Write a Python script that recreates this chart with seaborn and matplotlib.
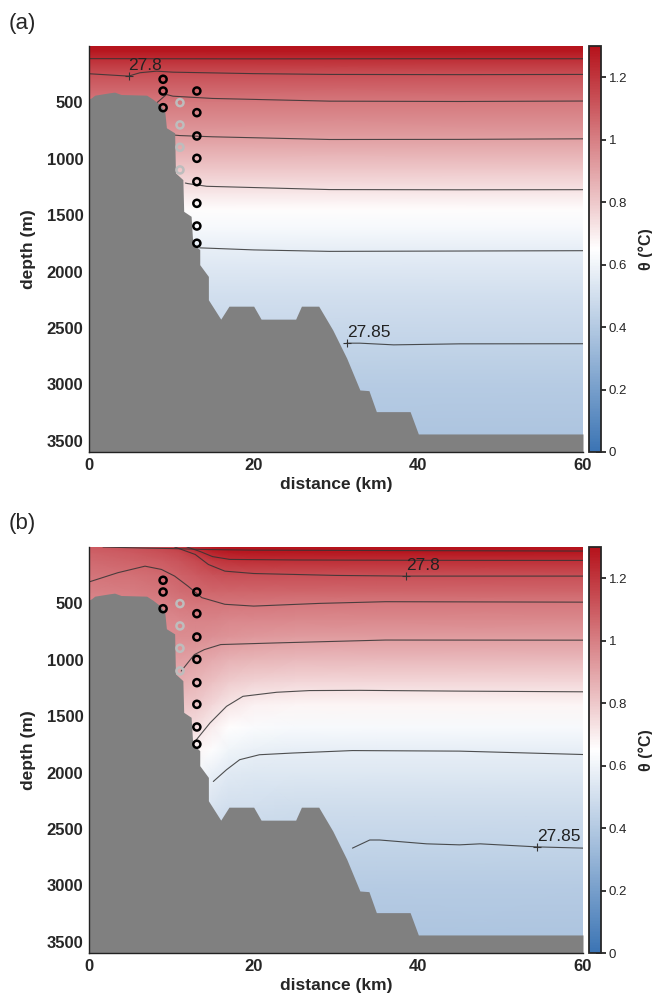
import numpy as np
import matplotlib
matplotlib.use("Agg")
import matplotlib.pyplot as plt
from matplotlib.colors import LinearSegmentedColormap
import seaborn as sns

sns.set_style("white")
plt.rcParams['font.family'] = ['Liberation Sans', 'DejaVu Sans']

# ---------------- data ----------------
# bathymetry (distance km, depth m)
bathy_km = [0, 0.3, 0.7, 2.5, 3.1, 3.9, 7.0, 7.8, 8.6, 9.2, 9.4, 10.4, 10.5, 11.4, 11.5,
            12.4, 12.6, 13.45, 13.45, 14.5, 14.5, 16.0, 17.0, 20.0, 20.9, 25.1, 25.8, 27.9,
            29.6, 31.3, 32.9, 34.0, 34.9, 39.0, 40.0, 60]
bathy_depth = [470, 459, 436, 415, 409, 430, 436, 474, 519, 578, 725, 770, 1125, 1185, 1466,
               1510, 1747, 1806, 1939, 2043, 2250, 2422, 2307, 2307, 2422, 2422, 2307, 2307,
               2517, 2768, 3050, 3056, 3242, 3242, 3440, 3440]

# panel (a): theta profile (horizontally uniform)
a_depths = [0, 50, 120, 250, 500, 800, 1100, 1300, 1450, 1600, 1800, 2200, 2650, 3000, 3600]
a_theta = [1.30, 1.28, 1.22, 1.13, 1.02, 0.92, 0.80, 0.72, 0.66, 0.62, 0.57, 0.50, 0.45, 0.41, 0.37]

# panel (b): theta on a grid (rows = depth, columns = distance)
b_dist = [0, 5, 9, 11, 13, 15, 17, 20, 25, 35, 60]
b_depths = [0, 50, 120, 250, 400, 500, 650, 800, 1000, 1200, 1400, 1600, 1800, 2000, 2300,
            2650, 3000, 3600]
b_theta = [
    [1.10, 1.12, 1.15, 1.18, 1.24, 1.28, 1.30, 1.30, 1.30, 1.30, 1.30],
    [1.08, 1.10, 1.13, 1.15, 1.20, 1.25, 1.27, 1.28, 1.28, 1.28, 1.28],
    [1.06, 1.08, 1.10, 1.12, 1.15, 1.19, 1.21, 1.22, 1.22, 1.22, 1.22],
    [1.03, 1.04, 1.06, 1.08, 1.10, 1.12, 1.13, 1.13, 1.13, 1.13, 1.13],
    [1.00, 1.01, 1.03, 1.05, 1.06, 1.07, 1.07, 1.07, 1.07, 1.07, 1.07],
    [0.98, 0.99, 1.00, 1.02, 1.03, 1.03, 1.03, 1.03, 1.02, 1.02, 1.02],
    [0.96, 0.97, 0.97, 0.98, 0.99, 0.99, 0.98, 0.98, 0.97, 0.97, 0.97],
    [0.94, 0.95, 0.95, 0.96, 0.96, 0.95, 0.94, 0.93, 0.92, 0.92, 0.92],
    [0.90, 0.91, 0.91, 0.91, 0.90, 0.88, 0.86, 0.85, 0.84, 0.84, 0.84],
    [0.86, 0.87, 0.87, 0.87, 0.85, 0.82, 0.79, 0.77, 0.76, 0.76, 0.76],
    [0.80, 0.81, 0.81, 0.81, 0.80, 0.76, 0.72, 0.69, 0.68, 0.68, 0.68],
    [0.75, 0.75, 0.75, 0.75, 0.74, 0.70, 0.65, 0.63, 0.62, 0.62, 0.62],
    [0.70, 0.70, 0.70, 0.70, 0.68, 0.64, 0.60, 0.58, 0.57, 0.57, 0.57],
    [0.64, 0.64, 0.64, 0.64, 0.62, 0.58, 0.55, 0.54, 0.54, 0.54, 0.54],
    [0.55, 0.55, 0.55, 0.55, 0.54, 0.52, 0.50, 0.50, 0.49, 0.49, 0.49],
    [0.45, 0.45, 0.45, 0.45, 0.45, 0.45, 0.45, 0.45, 0.45, 0.45, 0.45],
    [0.41, 0.41, 0.41, 0.41, 0.41, 0.41, 0.41, 0.41, 0.41, 0.41, 0.41],
    [0.37, 0.37, 0.37, 0.37, 0.37, 0.37, 0.37, 0.37, 0.37, 0.37, 0.37],
]

# density contours, panel (a): (km list, depth list)
a_contours = {
    "27.79": ([0, 20, 40, 60], [112, 114, 113, 113]),
    "27.80": ([0, 4.8, 6.2, 8.2, 10.2, 20, 29.2, 45, 60], [246, 267, 237, 223, 232, 245, 252, 254, 252]),
    "27.81": ([8.3, 9.4, 10.2, 15, 29.2, 45, 60], [500, 430, 445, 465, 489, 492, 488]),
    "27.82": ([10.4, 11, 15, 29.2, 45, 60], [790, 794, 805, 829, 828, 823]),
    "27.83": ([11.7, 12, 14.3, 29.2, 45, 60], [1215, 1220, 1244, 1273, 1275, 1274]),
    "27.84": ([13.45, 13.9, 20, 29.2, 45, 60], [1790, 1791, 1808, 1821, 1818, 1815]),
    "27.85": ([31.3, 32.9, 37, 45, 60], [2635, 2635, 2650, 2641, 2640]),
}
# density contours, panel (b)
b_contours = {
    "27.78": ([1.7, 6, 10.8, 14, 20, 40, 60], [0, 8, 15, 22, 28, 32, 36]),
    "27.79": ([11.9, 13.5, 15, 17.1, 25, 40, 60], [0, 40, 85, 110, 115, 118, 119]),
    "27.80": ([10.4, 12.9, 14.5, 16.5, 20, 30, 38.4, 50, 60], [0, 66, 155, 214, 235, 252, 258, 258, 258]),
    "27.81": ([0, 3.5, 6.8, 8.8, 10.4, 12, 13.7, 16.5, 20, 28, 36, 60],
              [310, 228, 170, 199, 258, 346, 449, 508, 524, 500, 485, 489]),
    "27.82": ([11.2, 12.8, 14, 16, 23, 36, 60], [1100, 954, 910, 865, 850, 825, 826]),
    "27.83": ([12.7, 14.7, 16.7, 18.7, 22.8, 26.8, 32.9, 45, 60],
              [1740, 1560, 1413, 1324, 1288, 1273, 1271, 1278, 1284]),
    "27.84": ([15.1, 16.7, 18.3, 20.7, 24.7, 32, 45, 60], [2079, 1975, 1886, 1842, 1827, 1805, 1810, 1840]),
    "27.85": ([32.0, 34.1, 35.3, 41, 45, 47.5, 54.4, 60], [2670, 2598, 2598, 2632, 2641, 2632, 2659, 2670]),
}
# contour labels: (text, km, depth)
a_labels = [("27.8", 4.8, 267), ("27.85", 31.3, 2632)]
b_labels = [("27.8", 38.5, 258), ("27.85", 54.4, 2659)]

# instruments
moor1_km, moor1_depth = 9.0, [295, 399, 547]
moorg_km, moorg_depth = 11.05, [502, 700, 898, 1099]
moor2_km, moor2_depth = 13.1, [399, 591, 798, 996, 1203, 1395, 1596, 1749]

cbar_ticks = [0, 0.2, 0.4, 0.6, 0.8, 1.0, 1.2]
cbar_ticklabels = ["0", "0.2", "0.4", "0.6", "0.8", "1", "1.2"]
y_ticks = [500, 1000, 1500, 2000, 2500, 3000, 3500]
x_ticks = [0, 20, 40, 60]

# ---------------- plot ----------------
cmap = LinearSegmentedColormap.from_list("bwr_m", ["#3b74b4", "#ffffff", "#b5121b"])
W, H = 652, 1001
fig = plt.figure(figsize=(W / 100, H / 100), dpi=100)

ax_w = 494 / W
panels = [
    dict(top=46, letter="(a)", ly=13),
    dict(top=547, letter="(b)", ly=513),
]
ax_h = 406 / H


def draw_panel(ax, cax, X, Y, Z, contours, labels):
    mesh = ax.pcolormesh(X, Y, Z, shading="gouraud", cmap=cmap, vmin=0, vmax=1.3,
                         zorder=1, rasterized=True)
    for key, (km, dep) in contours.items():
        sns.lineplot(x=km, y=dep, ax=ax, color="#333333", linewidth=0.8, alpha=0.85,
                     sort=False, estimator=None, legend=False, zorder=2)
    for txt, km, dep in labels:
        ax.plot([km], [dep], marker="+", ms=6, mew=0.8, color="#333333", zorder=2.5)
        ax.text(km, dep - 25, txt, fontsize=12.5, ha="left", va="bottom",
                color="#222222", zorder=2.5)
    ax.fill_between(bathy_km, bathy_depth, 3600, color="#808080", lw=0, zorder=3)
    sns.scatterplot(x=[moor1_km] * len(moor1_depth), y=moor1_depth, ax=ax, s=26,
                    facecolor="none", edgecolor="black", linewidth=1.8, zorder=4, legend=False)
    sns.scatterplot(x=[moorg_km] * len(moorg_depth), y=moorg_depth, ax=ax, s=26,
                    facecolor="none", edgecolor="#bdbdbd", linewidth=1.8, zorder=4, legend=False)
    sns.scatterplot(x=[moor2_km] * len(moor2_depth), y=moor2_depth, ax=ax, s=26,
                    facecolor="none", edgecolor="black", linewidth=1.8, zorder=4, legend=False)
    ax.set_xlim(0, 60)
    ax.set_ylim(3600, 0)
    ax.set_xticks(x_ticks)
    ax.set_yticks(y_ticks)
    ax.tick_params(length=0, pad=4, labelsize=12)
    for lab in ax.get_xticklabels() + ax.get_yticklabels():
        lab.set_fontweight("bold")
    ax.set_xlabel("distance (km)", fontsize=12.5, fontweight="bold", labelpad=3)
    ax.set_ylabel("depth (m)", fontsize=12.5, fontweight="bold", labelpad=8)
    for s in ["top", "right"]:
        ax.spines[s].set_visible(False)
    for s in ["left", "bottom"]:
        ax.spines[s].set_color("#222222")
        ax.spines[s].set_linewidth(1.0)
        ax.spines[s].set_zorder(5)

    cb = fig.colorbar(mesh, cax=cax)
    cb.set_ticks(cbar_ticks)
    cb.set_ticklabels(cbar_ticklabels)
    cb.outline.set_linewidth(1.3)
    cax.tick_params(direction="inout", length=7, width=1.3, labelsize=9.5, pad=2)
    cb.set_label("θ (°C)", fontsize=11.5, fontweight="bold", labelpad=8)


for i, p in enumerate(panels):
    bottom = 1 - (p["top"] + 406) / H
    ax = fig.add_axes([89 / W, bottom, ax_w, ax_h])
    cax = fig.add_axes([589 / W, bottom, 12 / W, ax_h])
    if i == 0:
        X, Y = np.meshgrid([0, 60], a_depths)
        Z = np.array([[t, t] for t in a_theta])
        draw_panel(ax, cax, X, Y, Z, a_contours, a_labels)
    else:
        X, Y = np.meshgrid(b_dist, b_depths)
        Z = np.array(b_theta)
        draw_panel(ax, cax, X, Y, Z, b_contours, b_labels)
    fig.text(9 / W, 1 - p["ly"] / H, p["letter"], fontsize=16, ha="left", va="top")

fig.savefig("out.png", dpi=100)
